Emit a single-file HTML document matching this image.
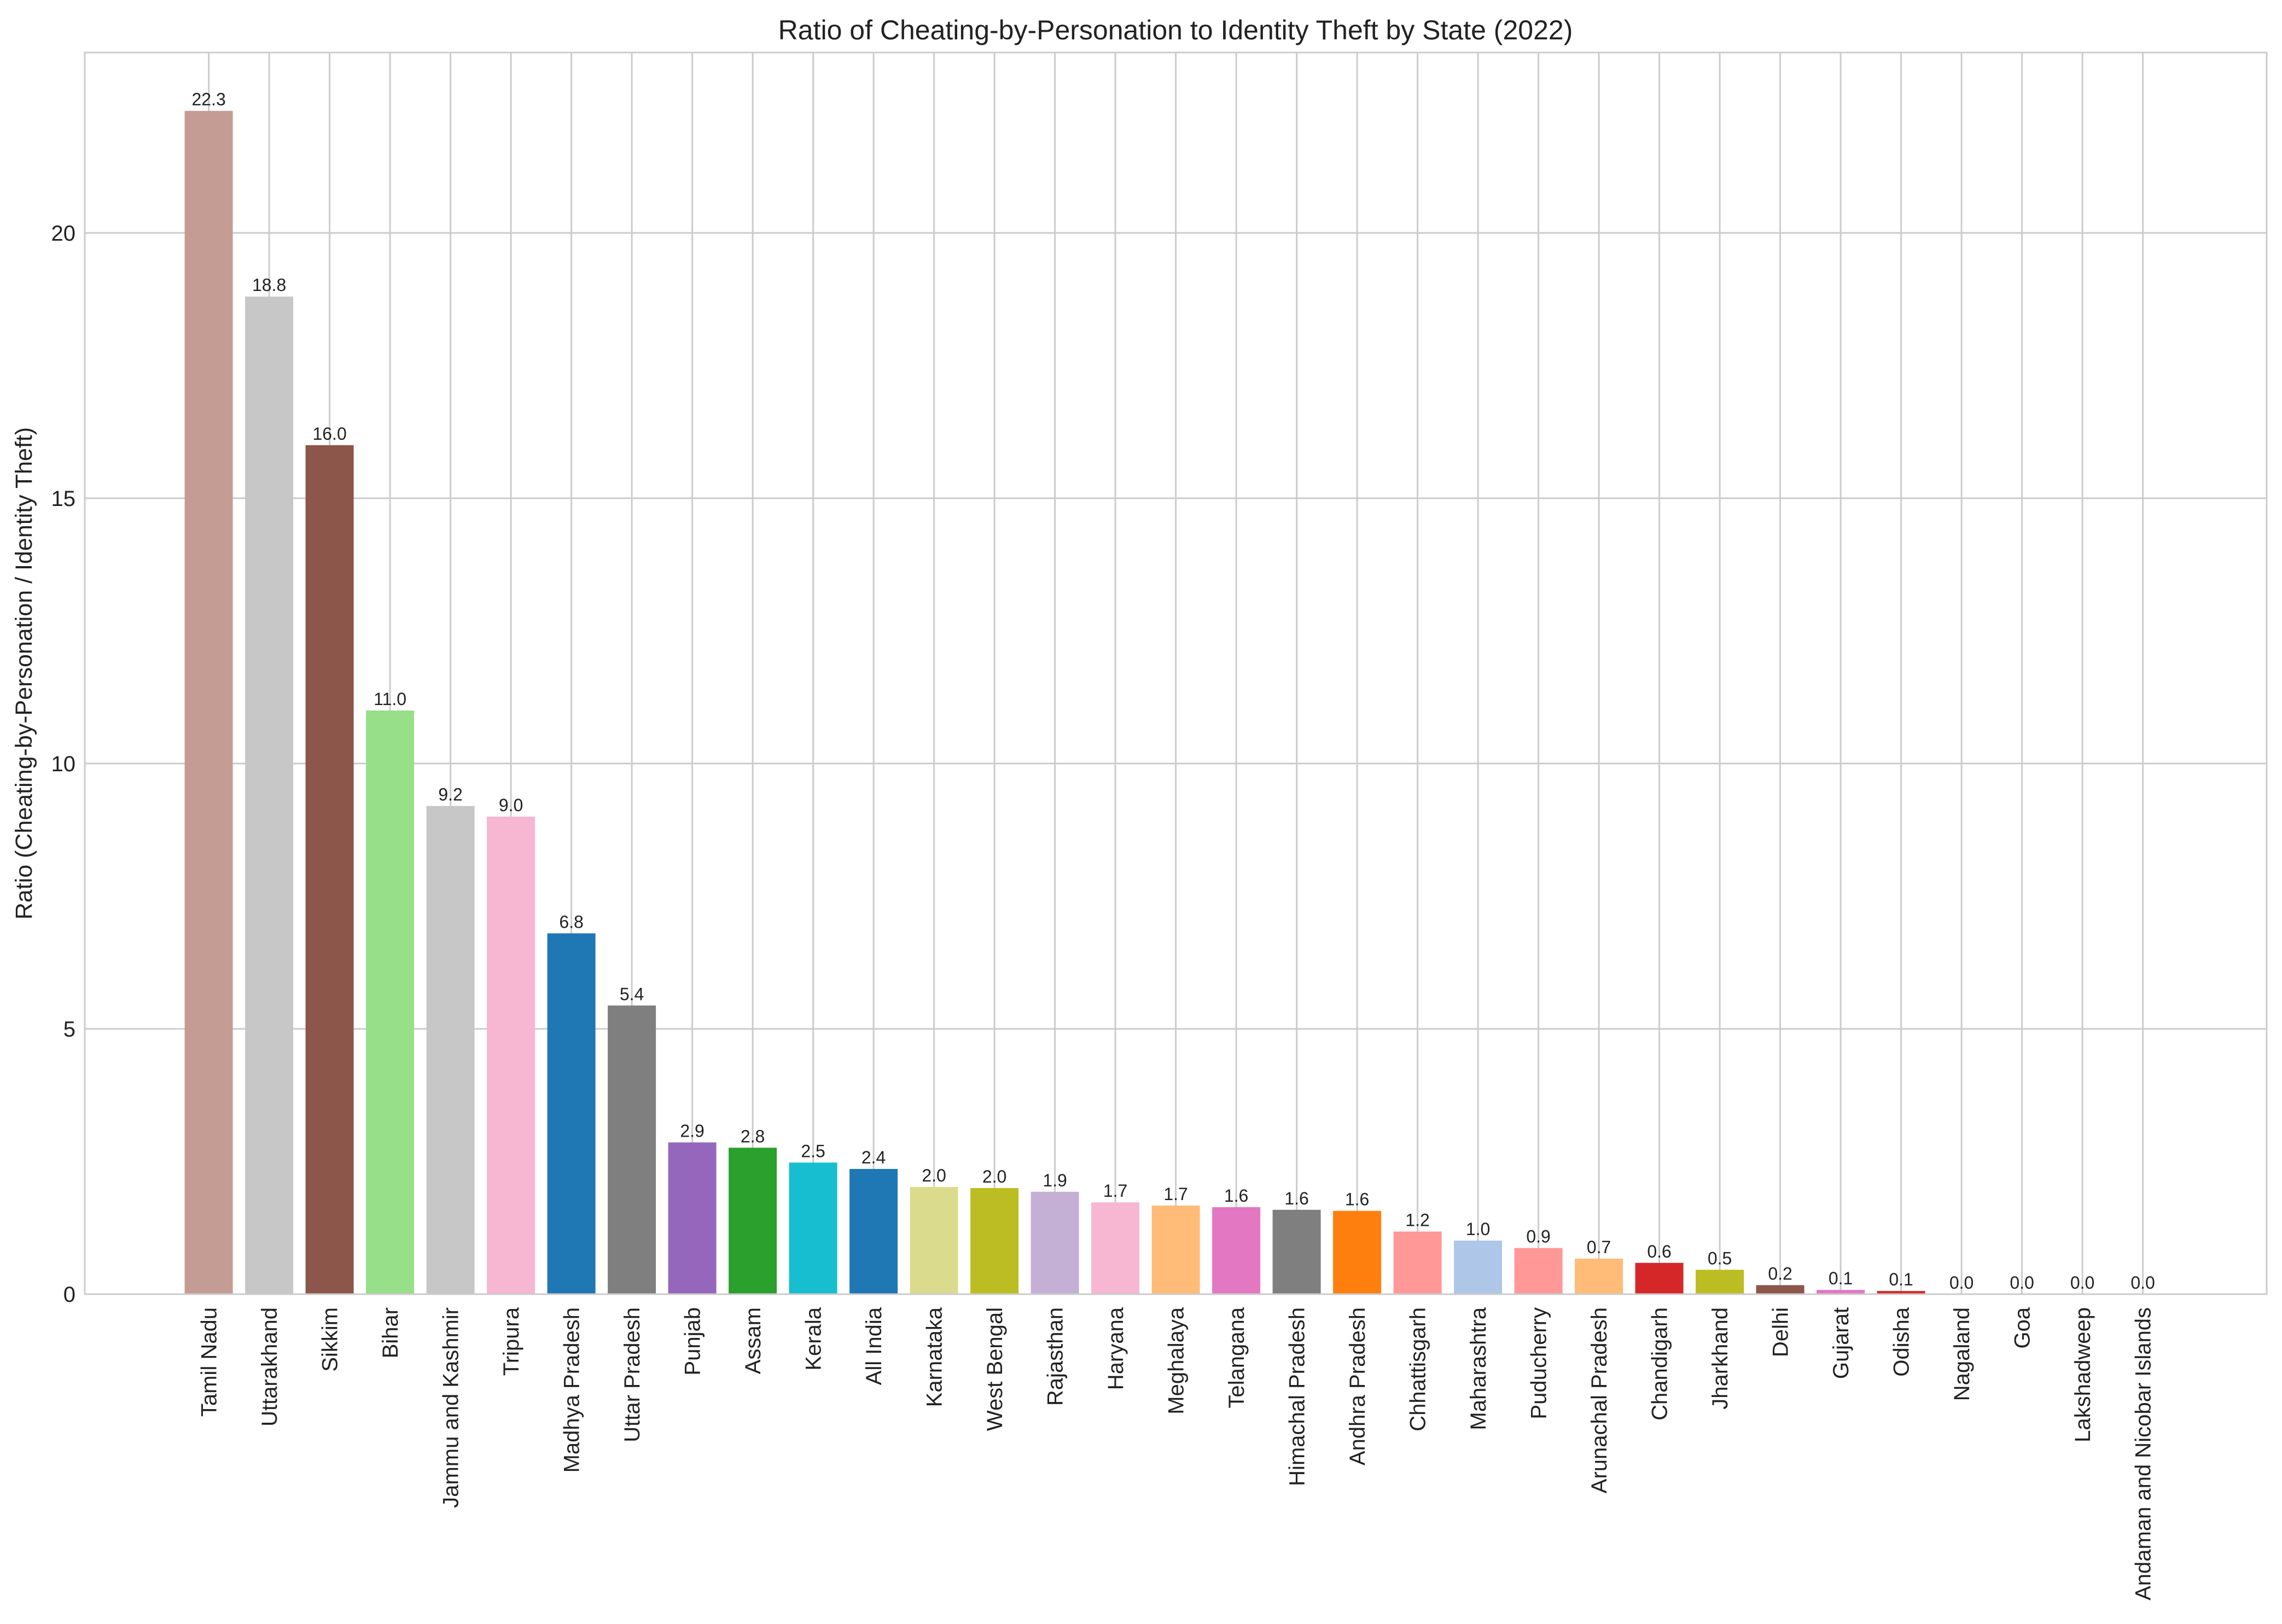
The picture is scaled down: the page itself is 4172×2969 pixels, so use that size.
<!DOCTYPE html>
<html><head><meta charset="utf-8"><style>
body{margin:0;background:#fff;}
svg{display:block;font-family:"Liberation Sans",Arial,sans-serif;}
</style></head><body>
<svg id="chart" width="4172" height="2969" viewBox="0 0 4172 2969" xmlns="http://www.w3.org/2000/svg">
<rect width="4172" height="2969" fill="#fff"/>
<text x="2149" y="72" font-size="50" text-anchor="middle" fill="#222">Ratio of Cheating-by-Personation to Identity Theft by State (2022)</text>
<text transform="translate(58,1231) rotate(-90)" font-size="43" text-anchor="middle" fill="#222">Ratio (Cheating-by-Personation / Identity Theft)</text>
<g id="grid"></g>
<g id="bars"></g>
<g id="labels"></g>
<rect x="155" y="96" width="3989" height="2270" fill="none" stroke="#ccc" stroke-width="3"/>
</svg>
<script>
const categories = ["Tamil Nadu","Uttarakhand","Sikkim","Bihar","Jammu and Kashmir","Tripura","Madhya Pradesh","Uttar Pradesh","Punjab","Assam","Kerala","All India","Karnataka","West Bengal","Rajasthan","Haryana","Meghalaya","Telangana","Himachal Pradesh","Andhra Pradesh","Chhattisgarh","Maharashtra","Puducherry","Arunachal Pradesh","Chandigarh","Jharkhand","Delhi","Gujarat","Odisha","Nagaland","Goa","Lakshadweep","Andaman and Nicobar Islands"];
const values = [22.3,18.8,16.0,11.0,9.2,9.0,6.8,5.44,2.86,2.76,2.48,2.36,2.02,2.0,1.93,1.73,1.67,1.64,1.59,1.57,1.18,1.01,0.87,0.67,0.59,0.46,0.17,0.08,0.06,0,0,0,0];
const colors = ["#c49c94","#c7c7c7","#8c564b","#98df8a","#c7c7c7","#f7b6d2","#1f77b4","#7f7f7f","#9467bd","#2ca02c","#17becf","#1f77b4","#dbdb8d","#bcbd22","#c5b0d5","#f7b6d2","#ffbb78","#e377c2","#7f7f7f","#ff7f0e","#ff9896","#aec7e8","#ff9896","#ffbb78","#d62728","#bcbd22","#8c564b","#e377c2","#d62728","#1f77b4","#1f77b4","#1f77b4","#1f77b4"];
const yTicks = [0,5,10,15,20];

const NS="http://www.w3.org/2000/svg";
const plotL=155,plotR=4144,plotT=96,plotB=2366;
const yMax=23.4;
function yScale(v){return plotB-(v/yMax)*(plotB-plotT);}
function xScale(i){return 381.6+i*110.5;}
const barW=88;
function mk(tag,attrs,parent){const e=document.createElementNS(NS,tag);for(const k in attrs)e.setAttribute(k,attrs[k]);parent.appendChild(e);return e;}
const gridG=document.getElementById('grid'),barsG=document.getElementById('bars'),labelsG=document.getElementById('labels');
yTicks.forEach(t=>{
  const y=yScale(t);
  const l=mk('line',{x1:plotL,x2:plotR,y1:y,y2:y,stroke:'#ccc','stroke-width':3},gridG);
  
  
  const tx=mk('text',{x:138,y:y+14,'font-size':40,'text-anchor':'end',fill:'#222'},labelsG);
  tx.textContent=t;
  
  
});
categories.forEach((c,i)=>{
  const x=xScale(i);
  const g=mk('line',{x1:x,x2:x,y1:plotT,y2:plotB,stroke:'#ccc','stroke-width':3},gridG);
  
  
  const y=yScale(values[i]);
  const r=mk('rect',{x:x-barW/2,y:y,width:barW,height:plotB-y,fill:colors[i]},barsG);
  
  
  const v=mk('text',{x:x,y:y-10,'font-size':32,'text-anchor':'middle',fill:'#222'},labelsG);
  v.textContent=values[i].toFixed(1);
  
  
  const t=mk('text',{transform:'translate('+(x+14)+',2390) rotate(-90)','font-size':40,'text-anchor':'end',fill:'#222'},labelsG);
  t.textContent=c;
  
  
});
</script>
</body></html>
